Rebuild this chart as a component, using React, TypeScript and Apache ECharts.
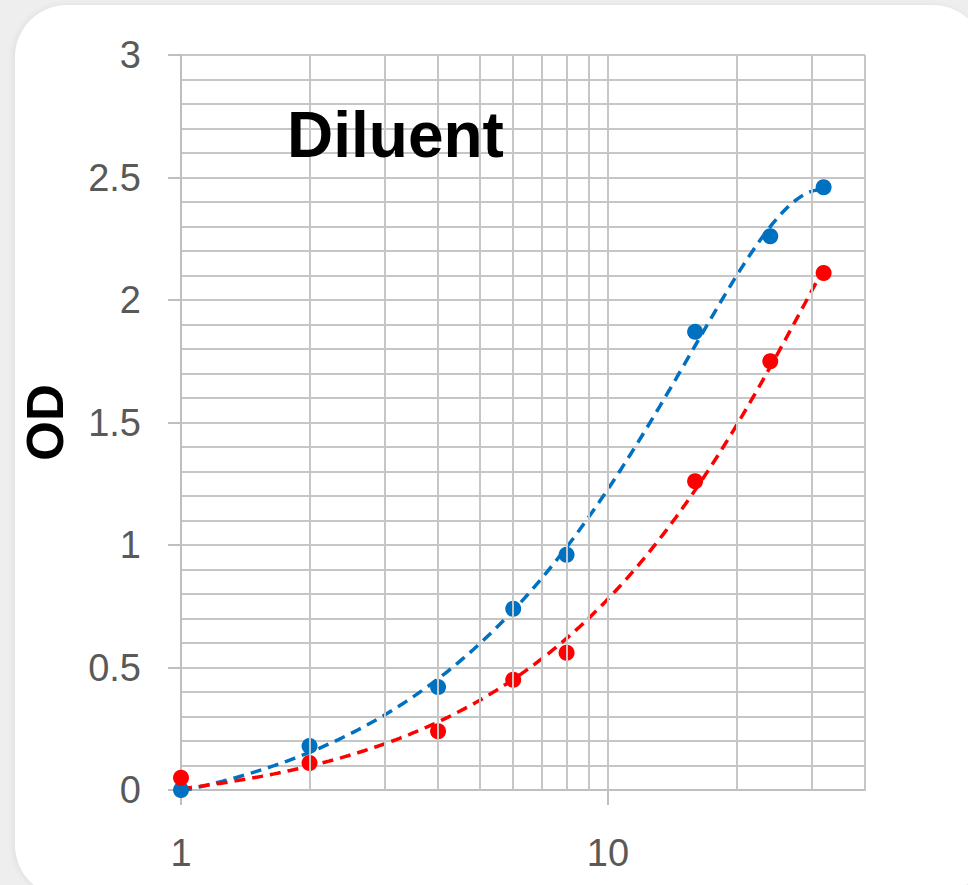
import React, { useEffect, useRef } from "react";
import * as echarts from "echarts";

// ---- data ----
const concentrations = [1, 2, 4, 6, 8, 16, 24, 32];
const blueOD = [0.0, 0.18, 0.42, 0.74, 0.96, 1.87, 2.26, 2.46];
const redOD = [0.05, 0.11, 0.24, 0.45, 0.56, 1.26, 1.75, 2.11];
const yTicks = [0, 0.5, 1, 1.5, 2, 2.5, 3];
const xLabelValues = [1, 10];
const xGridValues = [2, 3, 4, 5, 6, 7, 8, 9, 10, 20, 30, 40];
const TREND_ORDER = 2;

// least-squares polynomial fit (like a spreadsheet trendline)
function polyFit(xs: number[], ys: number[], order: number): number[] {
  const n = order + 1;
  const A: number[][] = [];
  for (let r = 0; r < n; r++) {
    const row: number[] = [];
    for (let c = 0; c < n; c++) {
      let s = 0;
      for (let i = 0; i < xs.length; i++) s += Math.pow(xs[i], r + c);
      row.push(s);
    }
    let b = 0;
    for (let i = 0; i < xs.length; i++) b += ys[i] * Math.pow(xs[i], r);
    row.push(b);
    A.push(row);
  }
  for (let col = 0; col < n; col++) {
    let piv = col;
    for (let r = col + 1; r < n; r++) if (Math.abs(A[r][col]) > Math.abs(A[piv][col])) piv = r;
    [A[col], A[piv]] = [A[piv], A[col]];
    for (let r = 0; r < n; r++) {
      if (r === col) continue;
      const f = A[r][col] / A[col][col];
      for (let c = col; c <= n; c++) A[r][c] -= f * A[col][c];
    }
  }
  return A.map((row, i) => row[n] / row[i]);
}

function trend(xs: number[], ys: number[]): number[][] {
  const coef = polyFit(xs, ys, TREND_ORDER);
  const x0 = xs[0];
  const x1 = xs[xs.length - 1];
  const pts: number[][] = [];
  const N = 200;
  for (let i = 0; i <= N; i++) {
    const x = x0 * Math.pow(x1 / x0, i / N);
    let y = 0;
    coef.forEach((c, k) => (y += c * Math.pow(x, k)));
    pts.push([x, y]);
  }
  return pts;
}

const BLUE = "#0070C0";
const RED = "#FF0000";
const GRID = "#c6c6c6";

export default function App() {
  const ref = useRef<HTMLDivElement>(null);

  useEffect(() => {
    if (!ref.current) return;
    const chart = echarts.init(ref.current, null, { renderer: "svg" });
    const tickFont = "'Liberation Sans', Arial, sans-serif";
    chart.setOption({
      animation: false,
      title: {
        text: "Diluent",
        left: 282,
        top: 98,
        textStyle: {
          fontFamily: "'Liberation Sans', Arial, sans-serif",
          fontWeight: "bold",
          fontSize: 64,
          color: "#000",
        },
      },
      grid: { left: 181, right: 103, top: 55, bottom: 95, containLabel: false, outerBoundsMode: "none" },
      xAxis: {
        type: "log",
        logBase: 10,
        min: 1,
        max: 40,
        axisLine: { show: true, lineStyle: { color: "#bfbfbf", width: 2 } },
        axisTick: {
          show: true,
          length: 15,
          customValues: xLabelValues,
          lineStyle: { color: "#bfbfbf", width: 2 },
        },
        axisLabel: {
          customValues: xLabelValues,
          margin: 44,
          fontSize: 38,
          color: "#595959",
          fontFamily: tickFont,
          formatter: (v: number) => String(Math.round(v)),
        },
        splitLine: { show: false },
        minorTick: { show: false },
      },
      yAxis: {
        type: "value",
        min: 0,
        max: 3,
        interval: 0.5,
        name: "OD",
        nameLocation: "middle",
        nameRotate: 90,
        nameGap: 110,
        nameTextStyle: {
          fontFamily: "'Liberation Sans', Arial, sans-serif",
          fontWeight: "bold",
          fontSize: 51,
          color: "#000",
        },
        axisLine: { show: true, lineStyle: { color: "#bfbfbf", width: 2 } },
        axisTick: { show: true, length: 13, lineStyle: { color: "#bfbfbf", width: 2 } },
        axisLabel: {
          margin: 40,
          fontSize: 38,
          color: "#595959",
          fontFamily: tickFont,
          formatter: (v: number) => (yTicks.includes(v) ? String(v) : ""),
        },
        splitLine: { show: true, lineStyle: { color: GRID, width: 2 } },
        minorTick: { show: false, splitNumber: 5 },
        minorSplitLine: { show: true, lineStyle: { color: GRID, width: 2 } },
      },
      series: [
        {
          type: "scatter",
          data: [],
          silent: true,
          z: 0,
          markLine: {
            silent: true,
            symbol: ["none", "none"],
            label: { show: false },
            lineStyle: { color: GRID, width: 2, type: "solid" },
            emphasis: { disabled: true },
            data: xGridValues.map((v) => ({ xAxis: v })),
          },
        },
        {
          type: "line",
          data: trend(concentrations, blueOD),
          showSymbol: false,
          symbol: "none",
          z: 3,
          lineStyle: { color: BLUE, width: 3.5, type: [11, 7] },
        },
        {
          type: "line",
          data: trend(concentrations, redOD),
          showSymbol: false,
          symbol: "none",
          z: 3,
          lineStyle: { color: RED, width: 3.5, type: [11, 7] },
        },
        {
          type: "scatter",
          data: concentrations.map((x, i) => [x, blueOD[i]]),
          symbolSize: 16,
          z: 4,
          itemStyle: { color: BLUE, opacity: 1 },
        },
        {
          type: "scatter",
          data: concentrations.map((x, i) => [x, redOD[i]]),
          symbolSize: 16,
          z: 4,
          itemStyle: { color: RED, opacity: 1 },
        },
      ],
    });
    return () => chart.dispose();
  }, []);

  return (
    <div style={{ position: "fixed", left: 0, top: 0, width: 968, height: 885, background: "#eeeeee", overflow: "hidden" }}>
      <div
        style={{
          position: "absolute",
          left: 15,
          top: 5,
          width: 970,
          height: 892,
          background: "#ffffff",
          borderRadius: 52,
          boxShadow: "-2px 0 6px rgba(0,0,0,0.06)",
        }}
      />
      <div ref={ref} style={{ position: "absolute", left: 0, top: 0, width: 968, height: 885 }} />
    </div>
  );
}
